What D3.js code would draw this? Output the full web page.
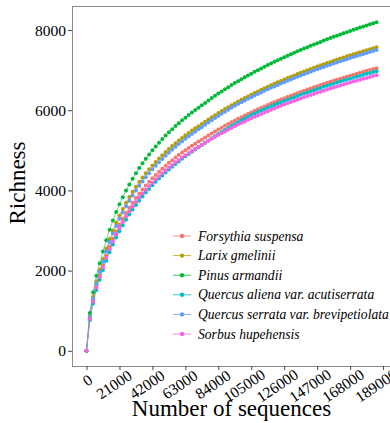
<!DOCTYPE html>
<html>
<head>
<meta charset="utf-8">
<script src="https://cdn.jsdelivr.net/npm/d3@7"></script>
<style>
  body { margin: 0; background: #fff; }
  svg { display: block; }
</style>
</head>
<body>
<svg id="chart" width="390" height="423"></svg>
<script>
// sequencing depth (x) shared by every curve
var sequences = [0,2100,4200,6300,8400,10500,12600,14700,16800,18900,21000,23100,25200,27300,29400,31500,33600,35700,37800,39900,42000,
  44100,46200,48300,50400,52500,54600,56700,58800,60900,63000,65100,67200,69300,71400,73500,75600,77700,79800,81900,84000,
  86100,88200,90300,92400,94500,96600,98700,100800,102900,105000,107100,109200,111300,113400,115500,117600,119700,121800,123900,126000,
  128100,130200,132300,134400,136500,138600,140700,142800,144900,147000,149100,151200,153300,155400,157500,159600,161700,163800,165900,168000,
  170100,172200,174300,176400,178500,180600,182700,184800];

var names = ['Forsythia suspensa', 'Larix gmelinii', 'Pinus armandii',
  'Quercus aliena var. acutiserrata', 'Quercus serrata var. brevipetiolata', 'Sorbus hupehensis'];

var forsythia = [0,809,1253,1610,1879,2130,2373,2595,2794,2976,3142,3295,3437,3570,3693,3810,3919,4022,4120,4213,4301,
  4386,4466,4543,4617,4688,4755,4821,4884,4944,5002,5059,5113,5166,5217,5266,5319,5371,5422,5471,5519,
  5566,5612,5657,5701,5744,5786,5827,5868,5908,5946,5985,6022,6059,6095,6131,6166,6200,6234,6267,6299,
  6332,6363,6395,6425,6456,6485,6515,6544,6572,6600,6628,6656,6683,6709,6736,6762,6787,6813,6838,6863,
  6887,6911,6935,6959,6982,7005,7028,7050];

var larix = [0,869,1346,1729,2018,2288,2548,2787,3001,3196,3375,3539,3692,3834,3967,4092,4209,4320,4426,4525,4620,
  4711,4797,4880,4959,5035,5108,5178,5245,5310,5373,5434,5492,5549,5603,5656,5714,5769,5823,5876,5928,
  5978,6028,6076,6123,6169,6215,6259,6303,6345,6387,6428,6468,6508,6547,6585,6622,6659,6696,6731,6766,
  6801,6835,6868,6901,6934,6966,6997,7028,7059,7090,7119,7149,7178,7206,7235,7263,7290,7318,7344,7371,
  7397,7423,7449,7474,7499,7524,7549,7573];

var pinus = [0,940,1457,1871,2184,2476,2758,3016,3248,3459,3652,3830,3996,4149,4293,4428,4556,4675,4789,4897,5000,
  5098,5191,5281,5367,5449,5528,5604,5677,5747,5815,5880,5944,6005,6064,6122,6183,6243,6302,6359,6415,
  6470,6524,6576,6627,6677,6726,6774,6821,6867,6912,6957,7000,7043,7085,7126,7167,7207,7246,7285,7323,
  7360,7397,7433,7469,7504,7539,7573,7606,7640,7673,7705,7737,7768,7799,7830,7860,7890,7919,7948,7977,
  8006,8034,8061,8089,8116,8143,8169,8196];

var qAliena = [0,761,1180,1518,1773,2012,2244,2456,2648,2823,2984,3133,3271,3400,3522,3637,3745,3848,3945,4038,4127,
  4213,4294,4373,4448,4521,4591,4659,4724,4788,4849,4909,4967,5023,5078,5131,5188,5244,5299,5352,5405,
  5456,5507,5557,5606,5653,5701,5747,5793,5838,5882,5920,5957,5994,6029,6065,6099,6133,6166,6199,6231,
  6263,6295,6326,6356,6386,6415,6444,6473,6501,6529,6557,6584,6610,6637,6663,6689,6714,6739,6764,6788,
  6813,6836,6860,6883,6907,6929,6952,6974];

var qSerrata = [0,844,1308,1681,1962,2225,2480,2713,2924,3115,3290,3452,3603,3743,3875,3999,4115,4225,4330,4430,4525,
  4616,4702,4786,4865,4942,5016,5087,5156,5222,5286,5348,5408,5466,5523,5577,5636,5693,5750,5804,5858,
  5910,5962,6012,6062,6110,6155,6199,6242,6284,6326,6366,6406,6445,6484,6522,6559,6595,6631,6667,6701,
  6736,6769,6803,6835,6867,6899,6930,6961,6992,7022,7051,7080,7109,7137,7166,7193,7220,7247,7274,7300,
  7326,7352,7377,7402,7427,7452,7476,7500];

var sorbus = [0,789,1222,1570,1832,2076,2313,2530,2724,2901,3063,3213,3351,3480,3601,3714,3821,3922,4017,4108,4194,
  4276,4354,4429,4501,4570,4636,4700,4761,4820,4877,4932,4985,5037,5086,5134,5186,5237,5286,5334,5381,
  5427,5472,5515,5558,5600,5641,5682,5721,5760,5798,5835,5871,5907,5943,5977,6011,6045,6078,6110,6142,
  6173,6204,6235,6264,6294,6323,6352,6380,6408,6435,6462,6489,6515,6541,6567,6592,6617,6642,6667,6691,
  6715,6738,6762,6784,6807,6830,6852,6874];

var colors = ['#F8766D', '#B79F00', '#00BA38', '#00BFC4', '#619CFF', '#F564E3'];
var xTicks = [0,21000,42000,63000,84000,105000,126000,147000,168000,189000];
var yTicks = [0,2000,4000,6000,8000];

var richness = [forsythia, larix, pinus, qAliena, qSerrata, sorbus];
var series = names.map(function(n, i){
  return {
    name : n,
    color : colors[i],
    values : sequences.map(function(s, j){ return {x : s, y : richness[i][j]}; })
  };
});

var font = '"Liberation Serif", "Times New Roman", serif';
var panel = {left : 72, top : 6, right : 391, bottom : 366};

var svg = d3.select('#chart');

var x = d3.scaleLinear()
    .domain([-9240, 194040])
    .range([panel.left, panel.right]);

var y = d3.scaleLinear()
    .domain([-380, 8600])
    .range([panel.bottom, panel.top]);

//panel border
svg.append('rect')
    .attr('x', panel.left + 0.5)
    .attr('y', panel.top + 0.5)
    .attr('width', panel.right - panel.left)
    .attr('height', panel.bottom - panel.top)
    .attr('fill', 'none')
    .attr('stroke', '#8a8a8a')
    .attr('stroke-width', 1);

//y axis
var yAxis = svg.append('g')
    .attr('transform', `translate(${panel.left},0)`)
    .call(d3.axisLeft(y).tickValues(yTicks).tickSize(4).tickPadding(2).tickFormat(d3.format('d')));

//x axis
var xAxis = svg.append('g')
    .attr('transform', `translate(0,${panel.bottom})`)
    .call(d3.axisBottom(x).tickValues(xTicks).tickSize(4).tickFormat(d3.format('d')));

svg.selectAll('.domain').remove();
svg.selectAll('.tick line').attr('stroke', '#444');
svg.selectAll('.tick text')
    .attr('fill', '#000')
    .style('font-family', font)
    .style('font-size', '15.5px');

var angle = 34, hj = 0.75;
xAxis.selectAll('.tick text')
    .attr('y', 0)
    .attr('dy', 0)
    .attr('dominant-baseline', 'central')
    .attr('text-anchor', 'middle')
    .attr('x', function(){ return -(hj - 0.5) * this.getComputedTextLength(); })
    .attr('transform', `translate(2,13) rotate(${-angle})`);

//lines then points
var line = d3.line()
    .x(function(d){ return x(d.x); })
    .y(function(d){ return y(d.y); });

svg.append('g')
    .selectAll('path')
    .data(series)
    .enter()
    .append('path')
    .attr('d', function(d){ return line(d.values); })
    .attr('fill', 'none')
    .attr('stroke', function(d){ return d.color; })
    .attr('stroke-width', 0.6);

svg.append('g')
    .selectAll('g')
    .data(series)
    .enter()
    .append('g')
    .attr('fill', function(d){ return d.color; })
    .selectAll('circle')
    .data(function(d){ return d.values; })
    .enter()
    .append('circle')
    .attr('cx', function(d){ return x(d.x); })
    .attr('cy', function(d){ return y(d.y); })
    .attr('r', 2);

//legend
var legend = svg.append('g')
    .attr('transform', 'translate(173,236)')
    .selectAll('g')
    .data(series)
    .enter()
    .append('g')
    .attr('transform', function(d, i){ return `translate(0,${i * 19.6})`; });

legend.append('line')
    .attr('x1', 0).attr('x2', 18)
    .attr('stroke', function(d){ return d.color; })
    .attr('stroke-width', 0.8);

legend.append('circle')
    .attr('cx', 9)
    .attr('r', 2.2)
    .attr('fill', function(d){ return d.color; });

legend.append('text')
    .attr('x', 25)
    .attr('dominant-baseline', 'central')
    .style('font-family', font)
    .style('font-style', 'italic')
    .style('font-size', '13.6px')
    .text(function(d){ return d.name; });

//axis titles
svg.append('text')
    .attr('x', (panel.left + panel.right) / 2)
    .attr('y', 416)
    .attr('text-anchor', 'middle')
    .style('font-family', font)
    .style('font-size', '23px')
    .text('Number of sequences');

svg.append('text')
    .attr('transform', 'translate(25,183) rotate(-90)')
    .attr('text-anchor', 'middle')
    .style('font-family', font)
    .style('font-size', '23px')
    .text('Richness');
</script>
</body>
</html>
